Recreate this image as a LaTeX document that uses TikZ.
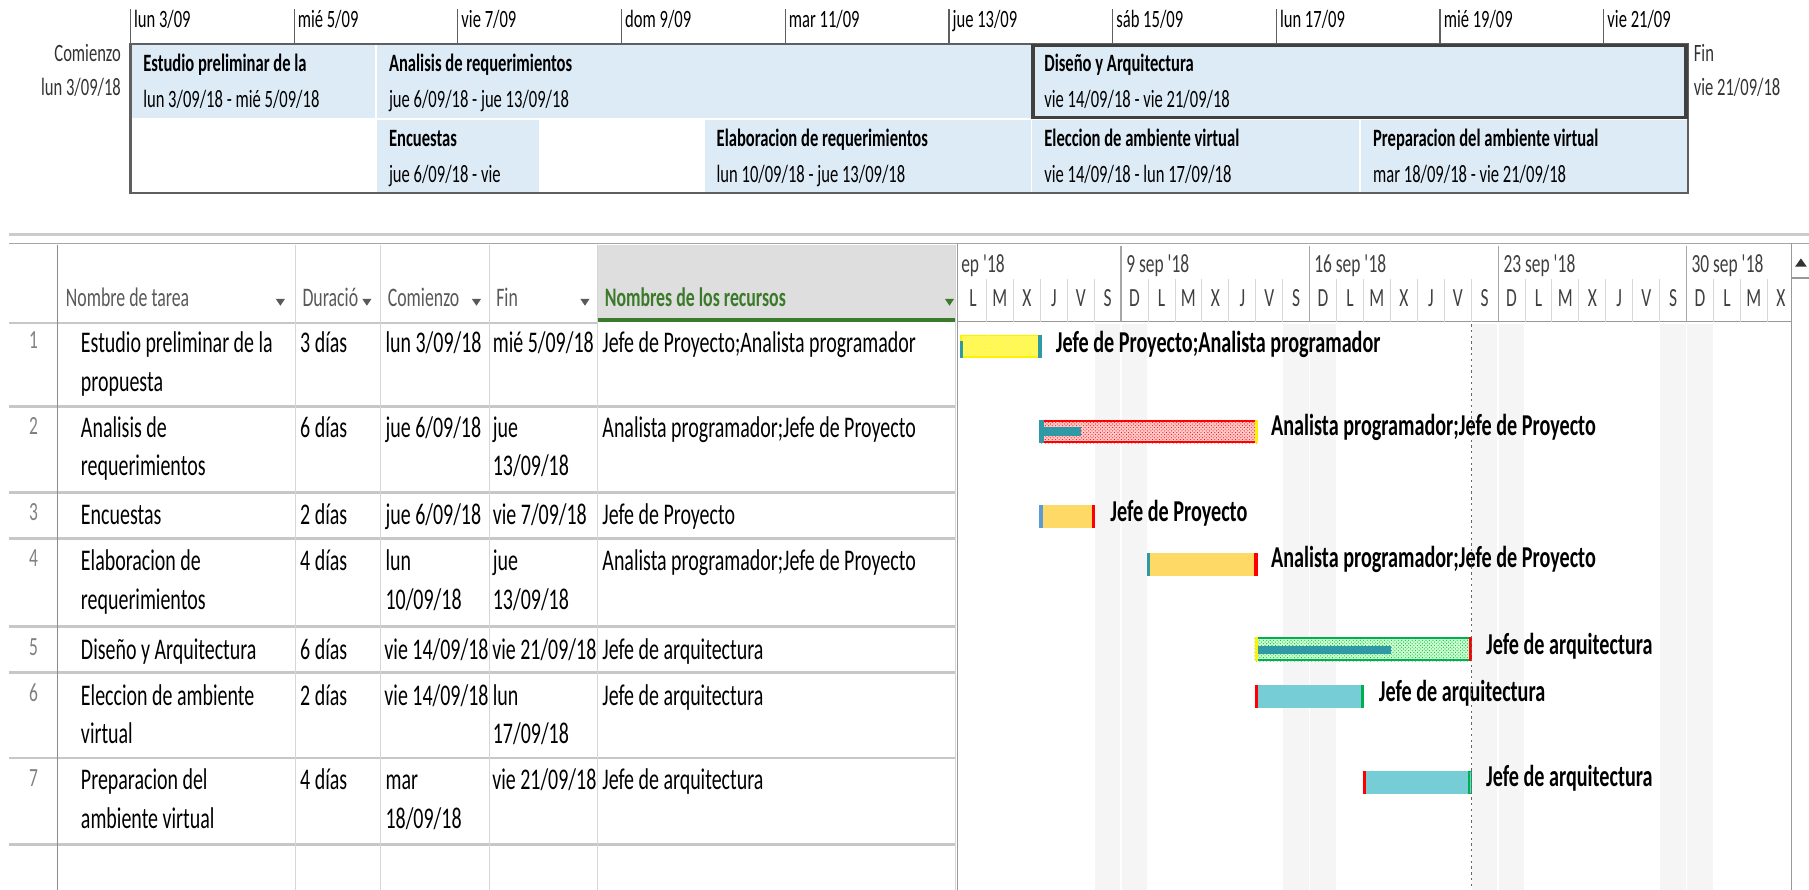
\documentclass[tikz,border=0pt]{standalone}
\usepackage{fontspec}
\setmainfont{Carlito}[FakeStretch=0.665]
\usetikzlibrary{patterns}
\definecolor{boxblue}{HTML}{DDEBF7}
\definecolor{boxline}{HTML}{5F5F5F}
\definecolor{gridgray}{HTML}{D6D6D6}
\definecolor{headgray}{HTML}{DEDEDE}
\definecolor{resgreen}{HTML}{3B7A2A}
\definecolor{wkend}{HTML}{F5F5F5}
\definecolor{barteal}{HTML}{77CDD6}
\definecolor{bargold}{HTML}{FFD966}
\definecolor{progteal}{HTML}{2F9AA5}
\definecolor{edgeblue}{HTML}{5B9BD5}
\definecolor{edgegreen}{HTML}{00B050}
\newcommand\yr{\textquotesingle\kern-1.5pt 18}

\begin{document}
\begin{tikzpicture}[x=1pt,y=-1pt,
  toptxt/.style={inner sep=0,anchor=mid west,yshift=-3.5pt,font=\fontsize{21.6}{26}\selectfont},
  topbold/.style={toptxt,font=\fontsize{21.6}{26}\selectfont\bfseries},
  cell/.style={inner sep=0,anchor=mid west,yshift=-5pt,font=\fontsize{26}{31}\selectfont},
  headtxt/.style={inner sep=0,anchor=mid west,yshift=-4.5pt,text=black!65,font=\fontsize{23.2}{28}\selectfont},
  rownum/.style={inner sep=0,anchor=mid,yshift=-4pt,text=black!50,font=\fontsize{22.7}{27}\selectfont},
  barlabel/.style={inner sep=0,anchor=mid west,yshift=-4.5pt,font=\fontsize{26.3}{31}\selectfont\bfseries},
  scaletxt/.style={inner sep=0,anchor=mid west,yshift=-3.5pt,text=black!75,font=\fontsize{22.7}{27}\selectfont},
  daytxt/.style={inner sep=0,anchor=mid,yshift=-2.5pt,text=black!75,font=\fontsize{22.7}{27}\selectfont},
  tlbox/.style={fill=boxblue,draw=white,line width=1.5pt},
  grid/.style={draw=gridgray,line width=1pt},
  rowline/.style={draw=black!22,line width=2.5pt},
  progress/.style={fill=progteal}]
\useasboundingbox (0,0) rectangle (1568,771);
\fill[white] (0,0) rectangle (1568,771);

% timeline
\fill[tlbox] (113,38) rectangle (326,103);
\fill[tlbox] (326,38) rectangle (894,103);
\fill[tlbox] (894,38) rectangle (1463,103);
\fill[tlbox] (326,103) rectangle (468,167);
\fill[tlbox] (610,103) rectangle (894,167);
\fill[tlbox] (894,103) rectangle (1179,167);
\fill[tlbox] (1179,103) rectangle (1463,167);
\draw[boxline,line width=2pt] (113,38) rectangle (1463,167);
\draw[black!75,line width=3pt] (895.5,39.5) rectangle (1461.5,102);
\foreach \d [count=\i from 0] in {lun 3/09,mié 5/09,vie 7/09,dom 9/09,mar 11/09,jue 13/09,sáb 15/09,lun 17/09,mié 19/09,vie 21/09}{
  \draw[boxline,line width=1pt] ({113+2*\i*70.95},8) -- ({113+2*\i*70.95},38);
  \node[toptxt] (tick\i) at ({116+2*\i*70.95},18) {\d};
}
\node[toptxt,anchor=mid east,text=black!80] (start) at (105,47) {Comienzo};
\node[toptxt,anchor=mid east,text=black!80] (startdate) at (105,77) {lun 3/09/18};
\node[toptxt,text=black!80] (finish) at (1468,47) {Fin};
\node[toptxt,text=black!80] (finishdate) at (1468,77) {vie 21/09/18};

\node[topbold] (tl1) at (124,56) {Estudio preliminar de la};
\node[toptxt] (tl1d) at (124,87) {lun 3/09/18 - mié 5/09/18};
\node[topbold] (tl2) at (337,56) {Analisis de requerimientos};
\node[toptxt] (tl2d) at (337,87) {jue 6/09/18 - jue 13/09/18};
\node[topbold] (tl5) at (905,56) {Diseño y Arquitectura};
\node[toptxt] (tl5d) at (905,87) {vie 14/09/18 - vie 21/09/18};
\node[topbold] (tl3) at (337,121) {Encuestas};
\node[toptxt] (tl3d) at (337,152) {jue 6/09/18 - vie};
\node[topbold] (tl4) at (621,121) {Elaboracion de requerimientos};
\node[toptxt] (tl4d) at (621,152) {lun 10/09/18 - jue 13/09/18};
\node[topbold] (tl6) at (905,121) {Eleccion de ambiente virtual};
\node[toptxt] (tl6d) at (905,152) {vie 14/09/18 - lun 17/09/18};
\node[topbold] (tl7) at (1190,121) {Preparacion del ambiente virtual};
\node[toptxt] (tl7d) at (1190,152) {mar 18/09/18 - vie 21/09/18};

% table frame
\draw[black!20,line width=2.5pt] (8,203) -- (1568,203);
\draw[black!35,line width=1pt] (8,211) -- (1568,211);
\fill[headgray] (518,212) rectangle (828,277);
\draw[resgreen,line width=3pt] (518,277.5) -- (828,277.5);
\foreach \y in {352,427,467,543,583,657,732}
  \draw[rowline] (8,\y) -- (828,\y);
\draw[rowline] (8,280) -- (518,280);
\draw[black!45,line width=1pt] (50,212) -- (50,771);
\foreach \x in {256,330,424,518,828}
  \draw[grid] (\x,212) -- (\x,771);

\node[headtxt] (hname) at (57,259) {Nombre de tarea};
\node[headtxt] (hdur) at (262,259) {Duració};
\node[headtxt] (hstart) at (336,259) {Comienzo};
\node[headtxt] (hend) at (430,259) {Fin};
\node[headtxt,text=resgreen,font=\fontsize{23.2}{28}\selectfont\bfseries] (hres) at (524,259) {Nombres de los recursos};
\foreach \x in {243,318,413,507}
  \fill[black!65] ({\x-4},259) -- ({\x+4},259) -- (\x,265) -- cycle;
\fill[resgreen] (819,259) -- (827,259) -- (823,265) -- cycle;

% rows
\node[rownum] (n1) at (29,296) {1};
\node[cell] (r1a) at (70,298) {Estudio preliminar de la};
\node[cell] (r1b) at (70,332) {propuesta};
\node[cell] (r1c) at (260,298) {3 días};
\node[cell] (r1d) at (334,298) {lun 3/09/18};
\node[cell] (r1e) at (427,298) {mié 5/09/18};
\node[cell] (r1f) at (522,298) {Jefe de Proyecto;Analista programador};

\node[rownum] (n2) at (29,370) {2};
\node[cell] (r2a) at (70,372) {Analisis de};
\node[cell] (r2b) at (70,405) {requerimientos};
\node[cell] (r2c) at (260,372) {6 días};
\node[cell] (r2d) at (334,372) {jue 6/09/18};
\node[cell] (r2e) at (427,372) {jue};
\node[cell] (r2g) at (427,405) {13/09/18};
\node[cell] (r2f) at (522,372) {Analista programador;Jefe de Proyecto};

\node[rownum] (n3) at (29,445) {3};
\node[cell] (r3a) at (70,447) {Encuestas};
\node[cell] (r3c) at (260,447) {2 días};
\node[cell] (r3d) at (334,447) {jue 6/09/18};
\node[cell] (r3e) at (427,447) {vie 7/09/18};
\node[cell] (r3f) at (522,447) {Jefe de Proyecto};

\node[rownum] (n4) at (29,485) {4};
\node[cell] (r4a) at (70,487) {Elaboracion de};
\node[cell] (r4b) at (70,521) {requerimientos};
\node[cell] (r4c) at (260,487) {4 días};
\node[cell] (r4d) at (334,487) {lun};
\node[cell] (r4h) at (334,521) {10/09/18};
\node[cell] (r4e) at (427,487) {jue};
\node[cell] (r4g) at (427,521) {13/09/18};
\node[cell] (r4f) at (522,487) {Analista programador;Jefe de Proyecto};

\node[rownum] (n5) at (29,562) {5};
\node[cell] (r5a) at (70,564) {Diseño y Arquitectura};
\node[cell] (r5c) at (260,564) {6 días};
\node[cell] (r5d) at (333,564) {vie 14/09/18};
\node[cell] (r5e) at (426.5,564) {vie 21/09/18};
\node[cell] (r5f) at (522,564) {Jefe de arquitectura};

\node[rownum] (n6) at (29,602) {6};
\node[cell] (r6a) at (70,604) {Eleccion de ambiente};
\node[cell] (r6b) at (70,637) {virtual};
\node[cell] (r6c) at (260,604) {2 días};
\node[cell] (r6d) at (333,604) {vie 14/09/18};
\node[cell] (r6e) at (427,604) {lun};
\node[cell] (r6g) at (427,637) {17/09/18};
\node[cell] (r6f) at (522,604) {Jefe de arquitectura};

\node[rownum] (n7) at (29,675) {7};
\node[cell] (r7a) at (70,677) {Preparacion del};
\node[cell] (r7b) at (70,711) {ambiente virtual};
\node[cell] (r7c) at (260,677) {4 días};
\node[cell] (r7d) at (334,677) {mar};
\node[cell] (r7h) at (334,711) {18/09/18};
\node[cell] (r7e) at (426.5,677) {vie 21/09/18};
\node[cell] (r7f) at (522,677) {Jefe de arquitectura};

% gantt scale
\foreach \k in {0,...,3}{
  \fill[wkend] ({831.7+(5+7*\k)*23.34+0.6},281) rectangle ++(22.2,490);
  \fill[wkend] ({831.7+(6+7*\k)*23.34+0.6},281) rectangle ++(22.2,490);
}
\draw[black!40,line width=1pt] (830,211) -- (830,771);
\draw[black!40,line width=1pt] (1553,211) -- (1553,771);
\draw[black!40,line width=1pt] (830,279) -- (1553,279);
\foreach \j in {1,...,30}
  \draw[gridgray,line width=0.8pt] ({831.7+\j*23.34},242) -- ({831.7+\j*23.34},279);
\foreach \k in {0,...,3}
  \draw[black!35,line width=1pt] ({971.7+\k*163.4},213) -- ({971.7+\k*163.4},279);
\node[scaletxt] (w0) at (833,230) {ep \yr};
\node[scaletxt] (w1) at (976,230) {9 sep \yr};
\node[scaletxt] (w2) at (1139,230) {16 sep \yr};
\node[scaletxt] (w3) at (1303,230) {23 sep \yr};
\node[scaletxt] (w4) at (1466,230) {30 sep \yr};
\foreach \l [count=\j from 0] in {L,M,X,J,V,S,D,L,M,X,J,V,S,D,L,M,X,J,V,S,D,L,M,X,J,V,S,D,L,M,X}
  \node[daytxt] (day\j) at ({831.7+(\j+0.5)*23.34},261) {\l};
\fill[black!80] (1556,231) -- (1566,231) -- (1561,224) -- cycle;
\draw[black!40,line width=1pt] (1553,241) -- (1568,241);

% bars
\fill[yellow!60] (832.5,290) rectangle (903,310);
\fill[pattern=crosshatch dots,pattern color=yellow] (832.5,290) rectangle (903,310);
\draw[yellow,line width=1.5pt] (833,290.7) rectangle (902,309.3);
\fill[progress] (832,296) rectangle (834.5,310);
\fill[progress] (899.5,290) rectangle (903,310);
\node[barlabel] (b1) at (915,299) {Jefe de Proyecto;Analista programador};

\fill[red!20] (901,364) rectangle (1090,384);
\fill[pattern=crosshatch dots,pattern color=red] (901,364) rectangle (1090,384);
\draw[red,line width=1.5pt] (901.7,364.7) rectangle (1089.3,383.3);
\fill[progress] (901,370.5) rectangle (937,377.5);
\fill[progress] (901,364) rectangle (904.5,384);
\fill[yellow] (1087.5,364) rectangle (1090,384);
\node[barlabel] (b2) at (1101.6,371) {Analista programador;Jefe de Proyecto};

\fill[bargold] (901,438) rectangle (949.5,458);
\fill[edgeblue] (901,438) rectangle (904,458);
\fill[red] (946.5,438) rectangle (949.5,458);
\node[barlabel] (b3) at (962.3,445) {Jefe de Proyecto};

\fill[bargold] (994,479) rectangle (1090,499);
\fill[progress] (994,479) rectangle (997,499);
\fill[red] (1087,479) rectangle (1090,499);
\node[barlabel] (b4) at (1101.6,485.4) {Analista programador;Jefe de Proyecto};

\fill[green!20] (1087.4,552.5) rectangle (1275.3,573);
\fill[pattern=crosshatch dots,pattern color=edgegreen] (1087.4,552.5) rectangle (1275.3,573);
\draw[edgegreen,line width=1.5pt] (1088.2,553.2) rectangle (1274.5,572.3);
\fill[progress] (1090,559.5) rectangle (1205.4,566.5);
\fill[yellow] (1087.4,552.5) rectangle (1090,573);
\fill[red] (1273.5,552.5) rectangle (1275.8,573);
\node[barlabel] (b5) at (1288,560.5) {Jefe de arquitectura};

\fill[barteal] (1087.4,594) rectangle (1182.7,614);
\fill[red] (1087.4,594) rectangle (1090.4,614);
\fill[edgegreen] (1179.7,594) rectangle (1182.7,614);
\node[barlabel] (b6) at (1195,601) {Jefe de arquitectura};

\fill[barteal] (1181,668) rectangle (1275.3,688);
\fill[red] (1181,668) rectangle (1184,688);
\draw[edgegreen,line width=1pt] (1273.3,668.5) rectangle (1275.6,687.5);
\node[barlabel] (b7) at (1288,675.2) {Jefe de arquitectura};

\draw[black!60,line width=1pt,dash pattern=on 2pt off 3pt] (1275.3,281) -- (1275.3,771);
\end{tikzpicture}
\end{document}
